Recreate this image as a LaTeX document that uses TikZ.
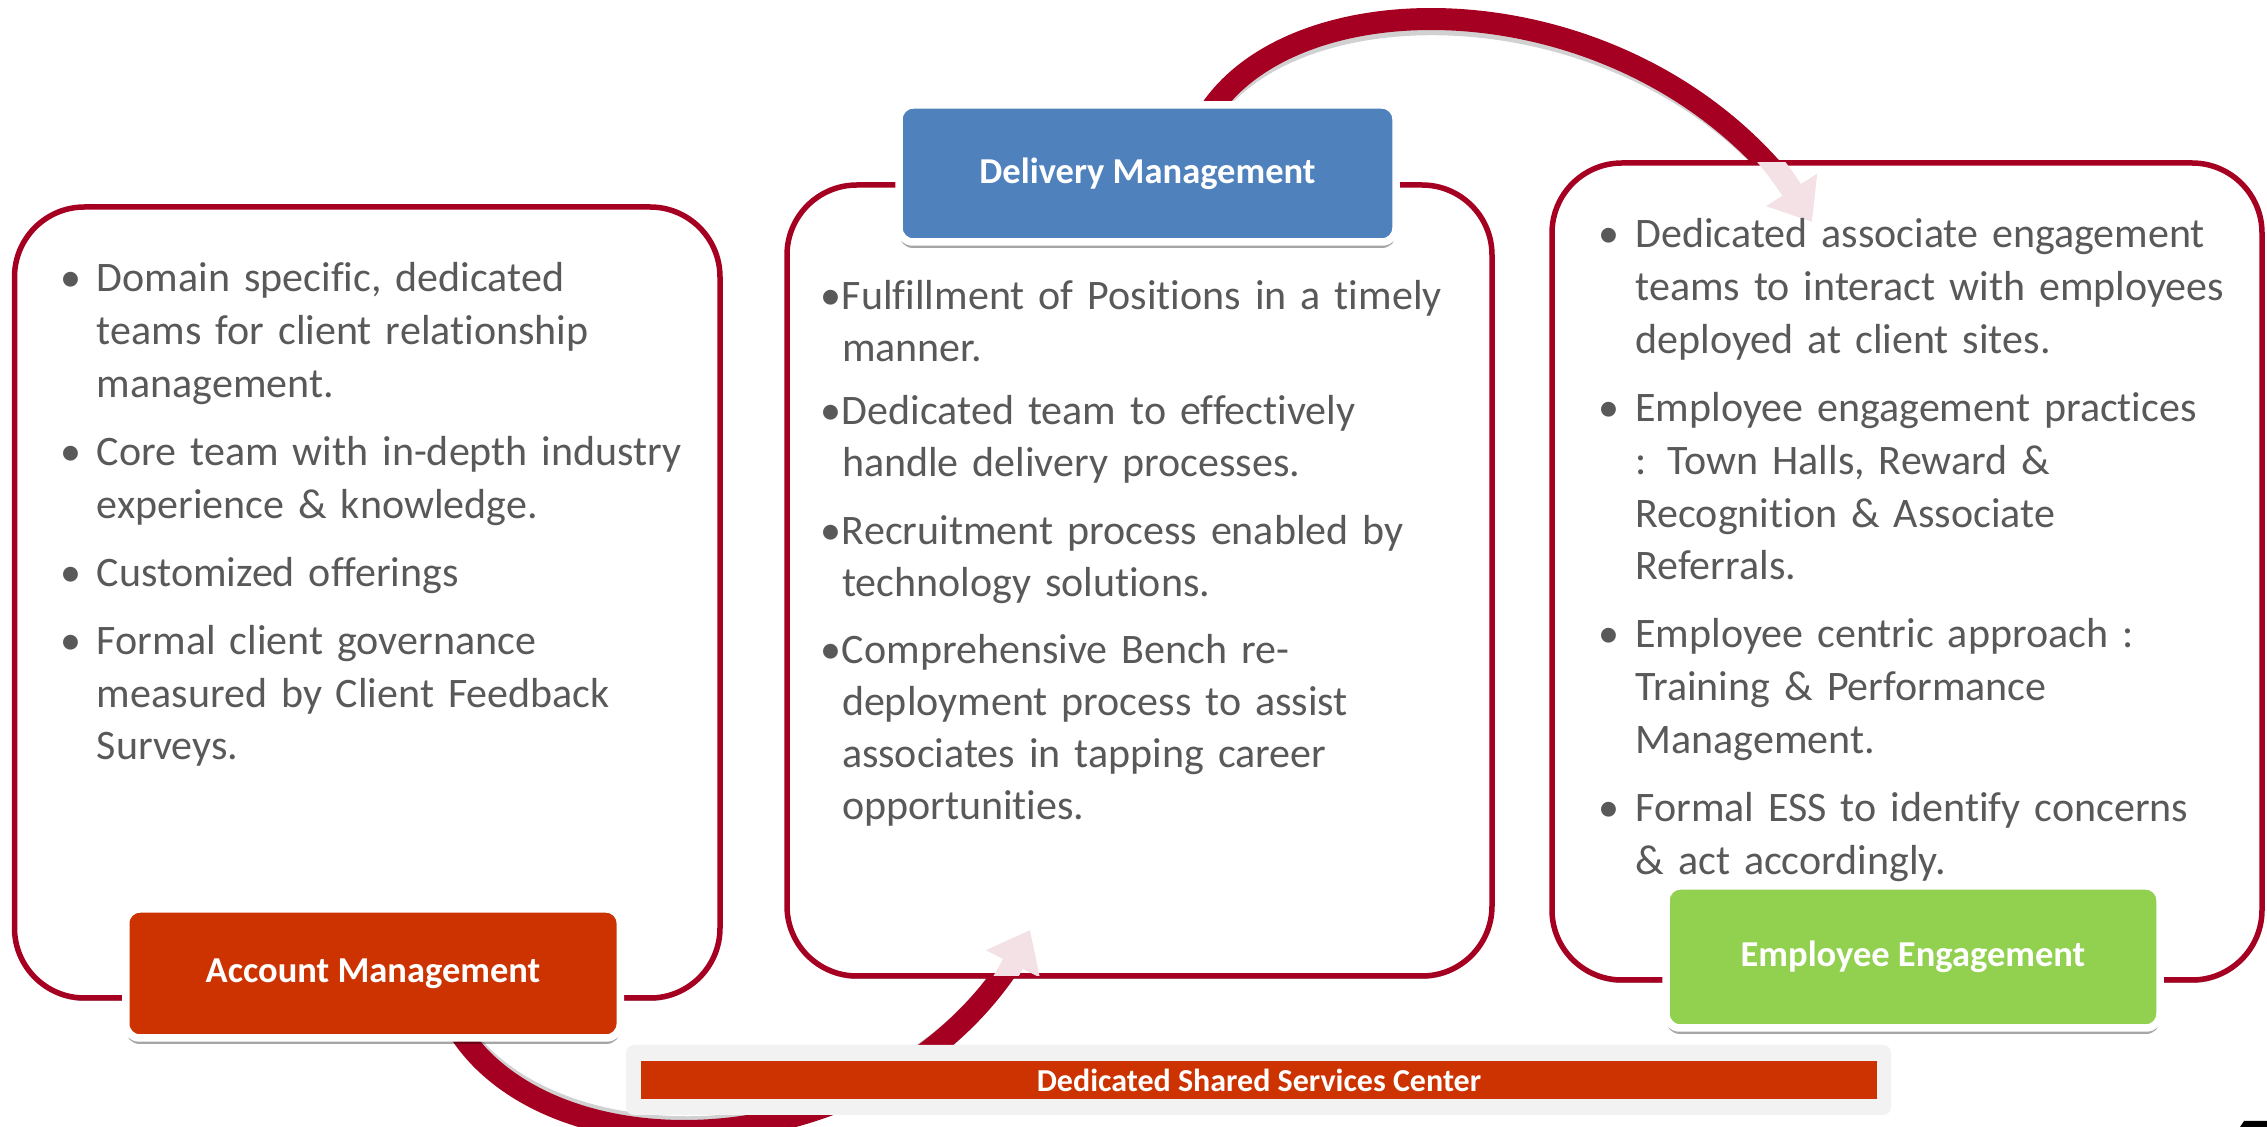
\documentclass[tikz,border=0pt]{standalone}
\usepackage{fontspec}
\setmainfont{Carlito}[Ligatures=NoCommon]
\usetikzlibrary{arrows.meta,shadows}
\definecolor{bordred}{HTML}{A50021}
\definecolor{txtgray}{HTML}{595959}
\definecolor{dmblue}{HTML}{4F81BD}
\definecolor{amred}{HTML}{CC3300}
\definecolor{eegreen}{HTML}{92D050}
\definecolor{panelgray}{HTML}{F2F2F2}
\definecolor{fadepink}{HTML}{F4E1E5}
\newcommand\blt[1]{\noindent\llap{\makebox[#1]{•}}}
\newcommand\bgap{\par\vspace{7.6pt}}
\begin{document}
\begin{tikzpicture}[x=0.5pt,y=-0.5pt,
  mainbox/.style={draw=bordred, line width=2.75pt, fill=white, rounded corners=35pt,
    inner sep=0pt, outer sep=0pt, anchor=north west,
    drop shadow={shadow xshift=0pt, shadow yshift=-1.5pt, opacity=0.3, fill=black}},
  lbl/.style={draw=white, line width=3.75pt, rounded corners=7pt, inner sep=0pt, outer sep=0pt,
    text=white, font=\bfseries\fontsize{18.25pt}{22pt}\selectfont,
    drop shadow={shadow xshift=0pt, shadow yshift=-3pt, opacity=0.35, fill=black}},
  band/.style={line width=11pt, draw=bordred},
  bandshadow/.style={line width=11pt, draw=black, opacity=0.18},
  fadeband/.style={line width=11pt, draw=fadepink, -{Triangle[width=29pt,length=19pt]}},
  bodytxt/.style={anchor=base west, inner sep=0pt, outer sep=0pt, align=left, text width=330pt,
    text=txtgray, font=\fontsize{21pt}{26.4pt}\selectfont}
]
\useasboundingbox (0,0) rectangle (2267,1127);

% main boxes
\node[mainbox, minimum width=352.75pt, minimum height=395.5pt] (lbox) at (14.5,207) {};
\node[mainbox, minimum width=352.5pt, minimum height=395.5pt] (mbox) at (787,185) {};
\node[mainbox, minimum width=355pt, minimum height=408.5pt] (rbox) at (1552,163) {};

% curve end points
\coordinate (tS) at (1195,140);
\coordinate (tE) at (1812,222);
\coordinate (bS) at (440,990);
\coordinate (bE) at (1030,930);

% top band (red outside right box)
\begin{scope}
  \clip (0,-60) rectangle (2267,163);
  \begin{scope}[shift={(3,7)}]
    \draw[bandshadow] (tS) .. controls (1260,-33) and (1650,-33) .. (tE);
  \end{scope}
  \draw[band] (tS) .. controls (1260,-33) and (1650,-33) .. (tE);
\end{scope}
\begin{scope}
  \clip (0,163) rectangle (2267,600);
  \draw[fadeband] (tS) .. controls (1260,-33) and (1650,-33) .. (tE);
\end{scope}

% bottom band (red outside middle box)
\begin{scope}
  \clip (0,976) rectangle (2267,1200);
  \begin{scope}[shift={(4,-5)}]
    \draw[bandshadow] (bS) .. controls (500,1187) and (900,1187) .. (bE);
  \end{scope}
  \draw[band] (bS) .. controls (500,1187) and (900,1187) .. (bE);
\end{scope}
\begin{scope}
  \clip (0,0) rectangle (2267,976);
  \draw[fadeband] (bS) .. controls (500,1187) and (900,1187) .. (bE);
\end{scope}

% labels
\node[lbl, fill=dmblue, minimum width=248.5pt, minimum height=68.5pt] (dm) at (1147.5,173.5) {Delivery Management};
\node[lbl, fill=amred, minimum width=247.25pt, minimum height=64.5pt] (am) at (373,973.5) {Account Management};
\node[lbl, fill=eegreen, minimum width=247pt, minimum height=71pt] (ee) at (1913,957) {Employee Engagement};

% bottom panel
\node[fill=panelgray, rounded corners=4pt, minimum width=632.5pt, minimum height=35pt, inner sep=0pt] (panel) at (1258.5,1080) {};
\node[fill=amred, minimum width=618pt, minimum height=19pt, inner sep=0pt, text=white,
  font=\bfseries\fontsize{16pt}{19pt}\selectfont] (dssc) at (1259,1080) {Dedicated Shared Services Center};

% texts
\node[bodytxt] (ltxt) at (97,292) {%
\blt{26pt}Domain specific, dedicated\\
teams for client relationship\\
management.\bgap
\blt{26pt}Core team with in-depth industry\\
experience \& knowledge.\bgap
\blt{26pt}Customized offerings\bgap
\blt{26pt}Formal client governance\\
measured by Client Feedback\\
Surveys.};

\node[bodytxt, font=\fontsize{21pt}{26pt}\selectfont] (mtxt) at (842,310) {%
\blt{11.5pt}Fulfillment of Positions in a timely\\
manner.\par\vspace{5.5pt}
\blt{11.5pt}Dedicated team to effectively\\
handle delivery processes.\bgap
\blt{11.5pt}Recruitment process enabled by\\
technology solutions.\bgap
\blt{11.5pt}Comprehensive Bench re-\\
deployment process to assist\\
associates in tapping career\\
opportunities.};

\node[bodytxt] (rtxt) at (1635.5,248) {%
\blt{27pt}Dedicated associate engagement\\
teams to interact with employees\\
deployed at client sites.\bgap
\blt{27pt}Employee engagement practices\\
: Town Halls, Reward \&\\
Recognition \& Associate\\
Referrals.\bgap
\blt{27pt}Employee centric approach :\\
Training \& Performance\\
Management.\bgap
\blt{27pt}Formal ESS to identify concerns\\
\& act accordingly.};

% page-number fragment at bottom right
\fill[black] (2240,1127) -- (2244,1121) -- (2267,1121) -- (2267,1127) -- cycle;
\end{tikzpicture}
\end{document}
